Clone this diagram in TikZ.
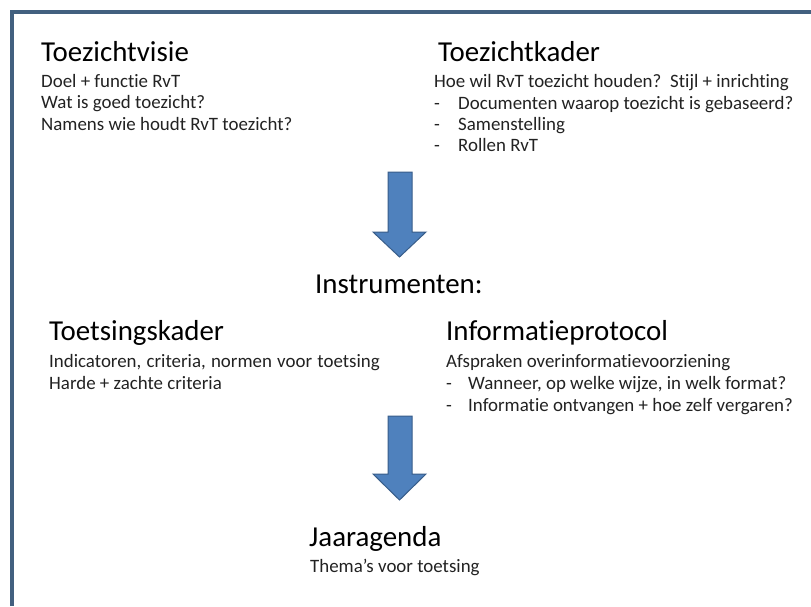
\documentclass[tikz,border=0pt]{standalone}
\usepackage{fontspec}
\setmainfont[Ligatures=NoCommon]{Carlito}
\definecolor{framec}{HTML}{42607F}
\definecolor{arrowfill}{HTML}{4F81BD}
\definecolor{arrowline}{HTML}{385D8A}
\definecolor{bodyc}{HTML}{222222}
\tikzset{
  head/.style={anchor=base west, inner sep=0pt, text=black, font=\fontsize{28.9}{34}\selectfont},
  body/.style={anchor=base west, inner sep=0pt, text=bodyc, font=\fontsize{18.9}{21}\selectfont},
  blockarrow/.style={fill=arrowfill, draw=arrowline, line width=1pt, line join=miter},
  framebar/.style={draw=framec, line width=4pt}
}
\begin{document}
\begin{tikzpicture}[x=1pt,y=-1pt]
\useasboundingbox (0,0) rectangle (811,606);
\fill[white] (0,0) rectangle (811,606);
% frame
\draw[framebar] (12,606) -- (12,12) -- (811,12);
% top left
\node[head] (tv) at (41,61) {Toezichtvisie};
\node[body] (tv1) at (41,87) {Doel + functie RvT};
\node[body] (tv2) at (41,108) {Wat is goed toezicht?};
\node[body] (tv3) at (41,130) {Namens wie houdt RvT toezicht?};
% top right
\node[head] (tk) at (438,61) {Toezichtkader};
\node[body] (tk1) at (434,87) {Hoe wil RvT toezicht houden?\, Stijl + inrichting};
\node[body] (tk2d) at (434,109) {-};
\node[body] (tk2) at (458,109) {Documenten waarop toezicht is gebaseerd?};
\node[body] (tk3d) at (434,130) {-};
\node[body] (tk3) at (458,130) {Samenstelling};
\node[body] (tk4d) at (434,151) {-};
\node[body] (tk4) at (458,151) {Rollen RvT};
% arrow 1
\draw[blockarrow] (388,172) -- (412,172) -- (412,232) -- (426,232) -- (399.5,257) -- (373,232) -- (388,232) -- cycle;
% Instrumenten
\node[head] (ins) at (315,293) {Instrumenten:};
% middle left
\node[head] (ts) at (49,340) {Toetsingskader};
\node[body] (ts1) at (49,367) {Indicatoren,\hspace{1pt} criteria,\hspace{1pt} normen\hspace{1pt} voor\hspace{1pt} toetsing};
\node[body] (ts2) at (49,389) {Harde + zachte criteria};
% middle right
\node[head] (ip) at (446,340) {Informatieprotocol};
\node[body] (ip1) at (446,367) {Afspraken overinformatievoorziening};
\node[body] (ip2d) at (446,389) {-};
\node[body] (ip2) at (468,389) {Wanneer, op welke wijze, in welk format?};
\node[body] (ip3d) at (446,411) {-};
\node[body] (ip3) at (468,411) {Informatie ontvangen + hoe zelf vergaren?};
% arrow 2
\draw[blockarrow] (388,416) -- (412,416) -- (412,474) -- (426,474) -- (399.5,500) -- (373,474) -- (388,474) -- cycle;
% bottom
\node[head] (ja) at (309,546) {Jaaragenda};
\node[body] (ja1) at (310,572) {Thema’s voor toetsing};
\end{tikzpicture}
\end{document}
